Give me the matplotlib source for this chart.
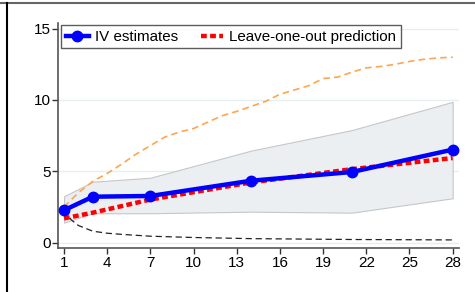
import matplotlib
matplotlib.use("Agg")
import matplotlib.pyplot as plt
from matplotlib.lines import Line2D

plt.rcParams['font.family'] = ['Liberation Sans', 'DejaVu Sans']

# IV estimates with confidence band
iv_x = [1, 3, 7, 14, 21, 28]
iv_est = [2.27, 3.22, 3.27, 4.34, 4.95, 6.52]
ci_low = [1.40, 2.06, 2.06, 2.17, 2.10, 3.11]
ci_high = [3.25, 4.27, 4.55, 6.45, 7.89, 9.87]

# leave-one-out prediction
loo_pred = [1.70, 2.10, 3.02, 4.22, 5.15, 5.93]

# orange dashed upper curve (daily)
upper_x = list(range(1, 29))
upper_y = [2.5, 3.5, 4.3, 4.85, 5.5, 6.2, 6.8, 7.4, 7.75, 8.0, 8.45, 8.9, 9.2, 9.55,
           9.9, 10.4, 10.7, 11.0, 11.5, 11.6, 11.95, 12.25, 12.35, 12.5, 12.7, 12.85, 12.95, 13.0]

# black dashed lower curve
lower_x = [1, 1.5, 2, 3, 4, 5, 7, 10, 14, 21, 28]
lower_y = [2.3, 1.6, 1.2, 0.8, 0.66, 0.58, 0.45, 0.36, 0.28, 0.22, 0.19]

xticks = [1, 4, 7, 10, 13, 16, 19, 22, 25, 28]
yticks = [0, 5, 10, 15]

fig = plt.figure(figsize=(4.75, 2.92), dpi=100)
ax = fig.add_axes([0.1227, 0.151, 0.8433, 0.770])

for yv in yticks:
    ax.axhline(yv, color='#e6efef', lw=1.0, zorder=0)

ax.fill_between(iv_x, ci_low, ci_high, facecolor='#ebeff2', edgecolor='#c4c8ca',
                lw=0.8, zorder=1)
ax.plot(upper_x, upper_y, color='#ffa54f', lw=1.2, dashes=(4, 2.5), zorder=2)
ax.plot(lower_x, lower_y, color='#222222', lw=0.9, dashes=(5, 3), zorder=2)
ax.plot(iv_x, iv_est, color='#0000ff', lw=3.2, marker='o', ms=7.5,
        zorder=4, label='IV estimates')
ax.plot(iv_x, loo_pred, color='#ff0000', lw=3.2, dashes=(1.3, 0.75),
        zorder=3, label='Leave-one-out prediction')

ax.set_xlim(0.6, 28.43)
ax.set_ylim(-0.37, 15.39)
ax.set_xticks(xticks)
ax.set_yticks(yticks)
ax.tick_params(labelsize=11, length=4, width=1, colors='#333333',
               labelcolor='black', pad=1.5)
for side in ['top', 'right']:
    ax.spines[side].set_visible(False)
for side in ['left', 'bottom']:
    ax.spines[side].set_color('#555555')
    ax.spines[side].set_linewidth(1.2)

leg = ax.legend(loc='upper left', bbox_to_anchor=(0.008, 0.99), ncol=2,
                fontsize=10.9, frameon=True, fancybox=False, edgecolor='#333333',
                handlelength=1.5, handletextpad=0.4, columnspacing=1.5,
                borderpad=0.3, borderaxespad=0)
leg.get_frame().set_linewidth(1.0)

# framing lines from the surrounding page
fig.add_artist(Line2D([0, 1], [0.989, 0.989], color='#666666', lw=1.5))
fig.add_artist(Line2D([0.0147, 0.0147], [0, 0.989], color='black', lw=1.5))

fig.savefig('out.png', dpi=100)
